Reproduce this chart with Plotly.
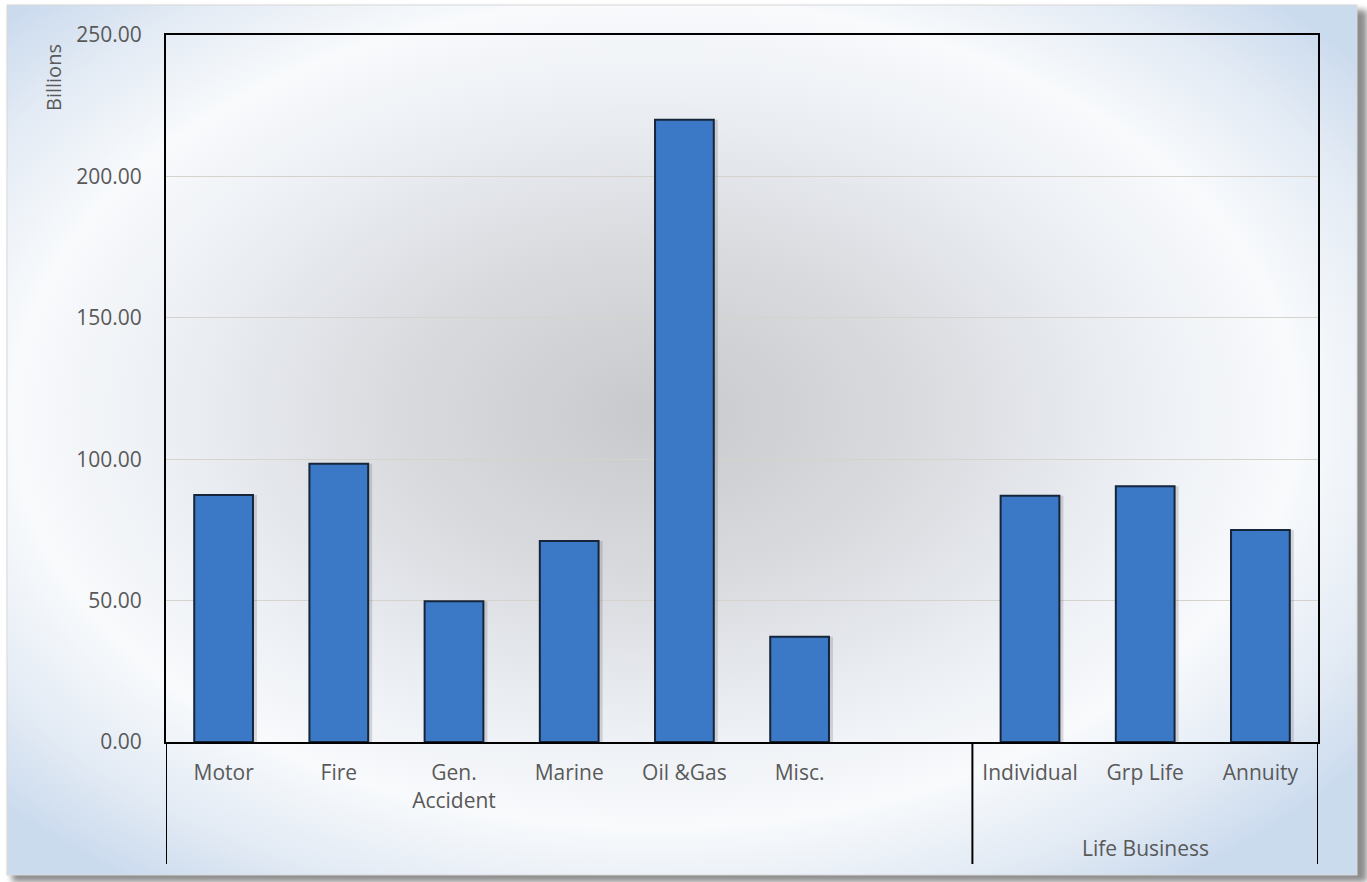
import base64
import plotly.graph_objects as go

categories = ["Motor", "Fire", "Gen.<br>Accident", "Marine", "Oil &Gas", "Misc.", " ",
              "Individual", "Grp Life", "Annuity"]
values = [87.3, 98.4, 49.8, 71.1, 220.0, 37.2, None, 87.1, 90.4, 75.0]
group_label = "Life Business"
group_center = "Grp Life"
y_ticks = [0, 50, 100, 150, 200, 250]

W, H = 1367, 882
L, R, T, B = 166, 49, 35, 140
pw, ph = W - L - R, H - T - B

svg = f'''<svg xmlns="http://www.w3.org/2000/svg" width="{W}" height="{H}" viewBox="0 0 {W} {H}" preserveAspectRatio="none">
<defs>
<radialGradient id="g" cx="0.48" cy="0.47" r="0.66">
<stop offset="0" stop-color="#c8c9cc"/>
<stop offset="0.3" stop-color="#d9dbdf"/>
<stop offset="0.55" stop-color="#eceff4"/>
<stop offset="0.72" stop-color="#f8fafc"/>
<stop offset="0.88" stop-color="#e2eaf4"/>
<stop offset="1" stop-color="#cbdbee"/>
</radialGradient>
<filter id="f" x="-5%" y="-5%" width="110%" height="110%"><feGaussianBlur stdDeviation="3"/></filter>
</defs>
<rect x="0" y="0" width="{W}" height="{H}" fill="#ffffff"/>
<rect x="12" y="10" width="{W-12}" height="{H-10}" fill="#8c8c8c" filter="url(#f)"/>
<rect x="7" y="5" width="1350" height="870" fill="url(#g)" stroke="#d8d8d8" stroke-width="1"/>
</svg>'''
src = "data:image/svg+xml;base64," + base64.b64encode(svg.encode()).decode()

fig = go.Figure()
bw = 0.51
fig.add_trace(go.Bar(x=categories, y=values, width=bw, offset=-bw / 2 + 0.035,
                     marker=dict(color="rgba(60,60,70,0.18)", line=dict(width=0)),
                     hoverinfo="skip", showlegend=False))
fig.add_trace(go.Bar(x=categories, y=values, width=bw, offset=-bw / 2,
                     marker=dict(color="#3b78c6", line=dict(color="#17253a", width=2)),
                     showlegend=False))

fig.update_layout(
    width=W, height=H,
    margin=dict(l=L, r=R, t=T, b=B, pad=0),
    paper_bgcolor="#ffffff",
    plot_bgcolor="rgba(0,0,0,0)",
    barmode="overlay",
    font=dict(family="Open Sans", size=21, color="#595959"),
    images=[dict(source=src, xref="paper", yref="paper",
                 x=-L / pw, y=1 + T / ph, sizex=W / pw, sizey=H / ph,
                 xanchor="left", yanchor="top", sizing="stretch", layer="below")],
    xaxis=dict(type="category", showline=True, mirror=True, linecolor="#000000", linewidth=2,
               ticks="", ticklabelstandoff=11, showgrid=False,
               tickfont=dict(size=21, color="#595959"), range=[-0.5, 9.5]),
    yaxis=dict(range=[0, 250], tickvals=y_ticks, tickformat=".2f",
               showline=True, mirror=True, linecolor="#000000", linewidth=2,
               showgrid=True, gridcolor="#d6d3cc", gridwidth=1, zeroline=False,
               ticks="", ticklabelstandoff=18, tickfont=dict(size=21, color="#595959")),
)

ext = (864 - 742) / ph
for xpos in [-0.5, 6.5, 9.5]:
    fig.add_shape(type="line", xref="x", yref="paper", x0=xpos, x1=xpos, y0=0, y1=-ext,
                  line=dict(color="#000000", width=2))

fig.add_annotation(x=group_center, y=-(848 - 742) / ph, xref="x", yref="paper",
                   text=group_label, showarrow=False, yanchor="middle",
                   font=dict(size=21, color="#595959"))
fig.add_annotation(x=(53 - L) / pw, y=(742 - 78) / ph, xref="paper", yref="paper",
                   text="Billions", showarrow=False, textangle=-90,
                   xanchor="center", yanchor="middle",
                   font=dict(size=20, color="#595959"))

fig.write_html("out.html")
